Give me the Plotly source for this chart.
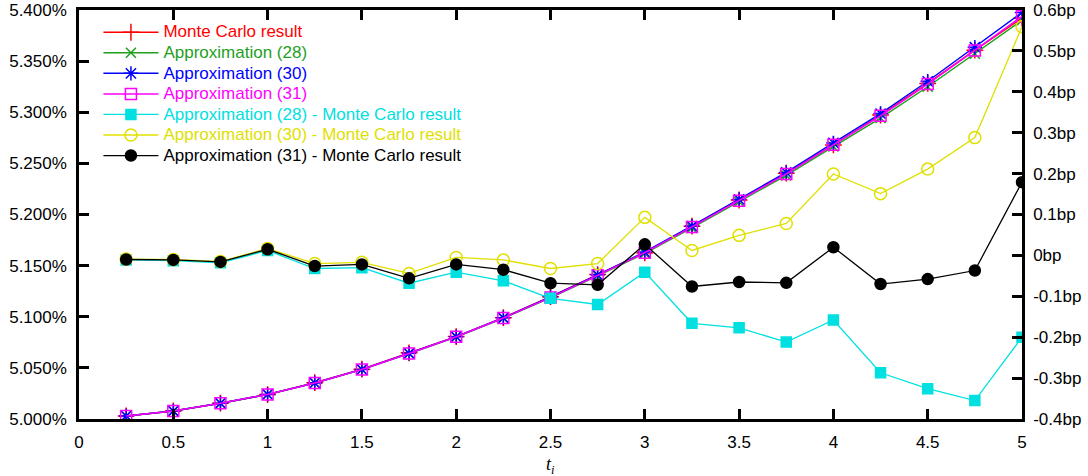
import plotly.graph_objects as go

t = [0.25, 0.5, 0.75, 1.0, 1.25, 1.5, 1.75, 2.0, 2.25, 2.5,
     2.75, 3.0, 3.25, 3.5, 3.75, 4.0, 4.25, 4.5, 4.75, 5.0]

monte_carlo = [5.0030, 5.0079, 5.0155, 5.0239, 5.0355, 5.0487, 5.0647, 5.0806, 5.0991, 5.1196,
               5.1412, 5.1624, 5.1886, 5.2142, 5.2404, 5.2680, 5.2972, 5.3282, 5.3607, 5.3920]
approx_28 = [5.00289, 5.00777, 5.01532, 5.02402, 5.03518, 5.04840, 5.06402, 5.08019, 5.09848, 5.11855,
             5.14000, 5.16199, 5.18694, 5.21243, 5.23828, 5.26642, 5.29433, 5.32494, 5.35715, 5.39000]
approx_30 = [5.00291, 5.00780, 5.01535, 5.02407, 5.03530, 5.04853, 5.06426, 5.08055, 5.09899, 5.11928,
             5.14100, 5.16333, 5.18872, 5.21469, 5.24118, 5.26999, 5.29871, 5.33031, 5.36358, 5.39759]
approx_31 = [5.00290, 5.00779, 5.01534, 5.02405, 5.03524, 5.04848, 5.06414, 5.08038, 5.09875, 5.11892,
             5.14048, 5.16267, 5.18784, 5.21355, 5.23973, 5.26820, 5.29650, 5.32762, 5.36033, 5.39379]

diff_28 = [-0.011, -0.013, -0.018, 0.012, -0.032, -0.030, -0.068, -0.041, -0.062, -0.105,
           -0.120, -0.041, -0.166, -0.177, -0.212, -0.158, -0.287, -0.326, -0.355, -0.200]
diff_30 = [-0.009, -0.010, -0.015, 0.017, -0.020, -0.017, -0.044, -0.005, -0.011, -0.032,
           -0.020, 0.093, 0.012, 0.049, 0.078, 0.199, 0.151, 0.211, 0.288, 0.559]
diff_31 = [-0.010, -0.011, -0.016, 0.015, -0.026, -0.022, -0.056, -0.022, -0.035, -0.068,
           -0.072, 0.027, -0.076, -0.065, -0.067, 0.020, -0.070, -0.058, -0.037, 0.179]

x_ticks = [0, 0.5, 1, 1.5, 2, 2.5, 3, 3.5, 4, 4.5, 5]
x_tick_text = ["0", "0.5", "1", "1.5", "2", "2.5", "3", "3.5", "4", "4.5", "5"]
y_ticks = [5.0, 5.05, 5.1, 5.15, 5.2, 5.25, 5.3, 5.35, 5.4]
y_tick_text = ["5.000%", "5.050%", "5.100%", "5.150%", "5.200%", "5.250%", "5.300%", "5.350%", "5.400%"]
y2_ticks = [-0.4, -0.3, -0.2, -0.1, 0, 0.1, 0.2, 0.3, 0.4, 0.5, 0.6]
y2_tick_text = ["-0.4bp", "-0.3bp", "-0.2bp", "-0.1bp", "0bp", "0.1bp", "0.2bp", "0.3bp", "0.4bp", "0.5bp", "0.6bp"]

RED = "#ff0000"
GREEN = "#1ea01e"
BLUE = "#0000ff"
MAGENTA = "#ff00ff"
CYAN = "#00e0e0"
YELLOW = "#e0e000"
BLACK = "#000000"

def label(text, color):
    return f"<span style='color:{color};font-size:17px'>{text}</span>"

fig = go.Figure()

series = [
    ("Monte Carlo result", monte_carlo, RED, "cross-thin", 12),
    ("Approximation (28)", approx_28, GREEN, "x-thin", 10),
    ("Approximation (30)", approx_30, BLUE, "asterisk", 12),
    ("Approximation (31)", approx_31, MAGENTA, "square-open", 11),
]
for name, vals, col, sym, sz in series:
    fig.add_trace(go.Scatter(
        x=t, y=vals, name=label(name, col), yaxis="y", mode="lines+markers",
        line=dict(color=col, width=1.5),
        marker=dict(symbol=sym, size=sz, color=col, line=dict(color=col, width=1.5)),
    ))

diffs = [
    ("Approximation (28) - Monte Carlo result", diff_28, CYAN, "square", 10),
    ("Approximation (30) - Monte Carlo result", diff_30, YELLOW, "circle-open", 12),
    ("Approximation (31) - Monte Carlo result", diff_31, BLACK, "circle", 11),
]
for name, vals, col, sym, sz in diffs:
    fig.add_trace(go.Scatter(
        x=t, y=vals, name=label(name, col), yaxis="y2", mode="lines+markers",
        line=dict(color=col, width=1.3),
        marker=dict(symbol=sym, size=sz, color=col, line=dict(color=col, width=1.5)),
    ))

FONT = "Liberation Sans, Arial, sans-serif"

fig.update_layout(
    width=1088, height=476,
    margin=dict(l=79, r=66, t=10, b=57, pad=0, autoexpand=False),
    paper_bgcolor="white", plot_bgcolor="white",
    font=dict(family=FONT, size=17, color="black"),
    showlegend=True,
    legend=dict(x=0.0206, y=0.983, xanchor="left", yanchor="top",
                bgcolor="rgba(0,0,0,0)", font=dict(size=13.5, family=FONT),
                itemwidth=55, tracegroupgap=0),
    xaxis=dict(range=[0, 5], tickmode="array", tickvals=x_ticks, ticktext=x_tick_text,
               ticks="inside", ticklen=10, tickwidth=2.5, tickcolor="black",
               showline=True, linewidth=2.5, linecolor="black", mirror="ticks",
               showgrid=False, zeroline=False, ticklabelstandoff=6, automargin=False),
    yaxis=dict(range=[5.0, 5.4], tickmode="array", tickvals=y_ticks, ticktext=y_tick_text,
               ticks="inside", ticklen=10, tickwidth=2.5, tickcolor="black",
               showline=True, linewidth=2.5, linecolor="black",
               showgrid=False, zeroline=False, ticklabelstandoff=6, automargin=False),
    yaxis2=dict(range=[-0.4, 0.6], overlaying="y", side="right",
                tickmode="array", tickvals=y2_ticks, ticktext=y2_tick_text,
                ticks="inside", ticklen=10, tickwidth=2.5, tickcolor="black",
                showline=True, linewidth=2.5, linecolor="black",
                showgrid=False, zeroline=False, ticklabelstandoff=5, automargin=False),
    annotations=[dict(text="<i>t<sub>i</sub></i>", xref="x", yref="paper", x=2.5, y=0,
                      yanchor="middle", yshift=-46, showarrow=False,
                      font=dict(family="Liberation Serif, Times New Roman, serif", size=18))],
)

fig.write_html("out.html",
               config={"displayModeBar": False},
               post_script="document.body.style.margin='0';document.body.style.padding='0';")
